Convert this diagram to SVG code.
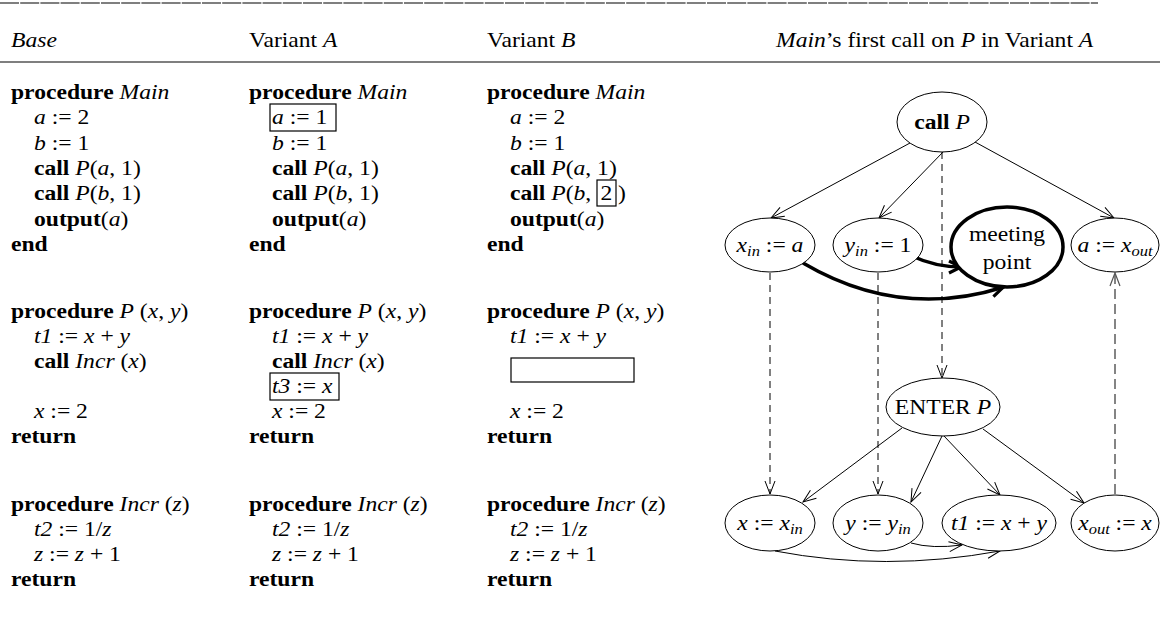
<svg xmlns="http://www.w3.org/2000/svg" width="1160" height="622" viewBox="0 0 1160 622">
<style>
  text { font-family: 'Liberation Serif', 'Times New Roman', serif; font-size: 20px; fill: #000; }
  .b { font-weight: bold; }
  .i { font-style: italic; }
  .sub { font-size: 14px; font-style: italic; }
  .rule { stroke: #000; stroke-width: 1.2; }
  .box { fill: none; stroke: #000; stroke-width: 1.2; }
  .node { fill: #fff; stroke: #000; stroke-width: 1; }
  .node-thick { fill: #fff; stroke: #000; stroke-width: 3.5; }
  .edge { fill: none; stroke: #000; stroke-width: 1; }
  .dash { fill: none; stroke: #000; stroke-width: 1; stroke-dasharray: 7 5; }
  .dash-gray { fill: none; stroke: #666; stroke-width: 1.6; stroke-dasharray: 10 5; }
  .heavy { fill: none; stroke: #000; stroke-width: 3.5; }
</style>
<defs>
  <marker id="arr" markerUnits="userSpaceOnUse" viewBox="-15 -8 17 16" markerWidth="17" markerHeight="16" refX="0" refY="0" orient="auto" overflow="visible">
    <path d="M -13 -5 L 0 0 L -13 5" fill="none" stroke="#000" stroke-width="1"/>
  </marker>
  <marker id="arr-gray" markerUnits="userSpaceOnUse" viewBox="-15 -8 17 16" markerWidth="17" markerHeight="16" refX="0" refY="0" orient="auto" overflow="visible">
    <path d="M -13 -5 L 0 0 L -13 5" fill="none" stroke="#555" stroke-width="1.2"/>
  </marker>
  <marker id="arr-heavy" markerUnits="userSpaceOnUse" viewBox="-16 -9 18 18" markerWidth="18" markerHeight="18" refX="0" refY="0" orient="auto" overflow="visible">
    <path d="M -13 -6 L -1 0 L -13 6" fill="none" stroke="#000" stroke-width="3.2"/>
  </marker>
</defs>

<!-- page rules -->
<line x1="0" y1="3" x2="1098" y2="3" class="rule" stroke-dasharray="19 1.2"/>
<line x1="0" y1="62" x2="1160" y2="62" class="rule"/>

<!-- column headers -->
<g id="headers">
  <text transform="translate(11,47) scale(1.18 1)"><tspan class="i">Base</tspan></text>
  <text transform="translate(249,47) scale(1.18 1)">Variant <tspan class="i">A</tspan></text>
  <text transform="translate(487,47) scale(1.18 1)">Variant <tspan class="i">B</tspan></text>
  <text transform="translate(776,47) scale(1.18 1)"><tspan class="i">Main</tspan>’s first call on <tspan class="i">P</tspan> in Variant <tspan class="i">A</tspan></text>
</g>

<!-- Base program -->
<g id="base" transform="translate(11,0) scale(1.18 1)">
  <text y="99"><tspan class="b">procedure</tspan> <tspan class="i">Main</tspan></text>
  <text x="19.5" y="124"><tspan class="i">a</tspan> := 2</text>
  <text x="19.5" y="150"><tspan class="i">b</tspan> := 1</text>
  <text x="19.5" y="175"><tspan class="b">call</tspan> <tspan class="i">P</tspan>(<tspan class="i">a</tspan>, 1)</text>
  <text x="19.5" y="200"><tspan class="b">call</tspan> <tspan class="i">P</tspan>(<tspan class="i">b</tspan>, 1)</text>
  <text x="19.5" y="226"><tspan class="b">output</tspan>(<tspan class="i">a</tspan>)</text>
  <text y="251"><tspan class="b">end</tspan></text>

  <text y="318"><tspan class="b">procedure</tspan> <tspan class="i">P</tspan> (<tspan class="i">x</tspan>, <tspan class="i">y</tspan>)</text>
  <text x="19.5" y="343"><tspan class="i">t1</tspan> := <tspan class="i">x</tspan> + <tspan class="i">y</tspan></text>
  <text x="19.5" y="368"><tspan class="b">call</tspan> <tspan class="i">Incr</tspan> (<tspan class="i">x</tspan>)</text>
  <text x="19.5" y="418"><tspan class="i">x</tspan> := 2</text>
  <text y="443"><tspan class="b">return</tspan></text>

  <text y="511"><tspan class="b">procedure</tspan> <tspan class="i">Incr</tspan> (<tspan class="i">z</tspan>)</text>
  <text x="19.5" y="536"><tspan class="i">t2</tspan> := 1/<tspan class="i">z</tspan></text>
  <text x="19.5" y="561"><tspan class="i">z</tspan> := <tspan class="i">z</tspan> + 1</text>
  <text y="586"><tspan class="b">return</tspan></text>
</g>

<!-- Variant A -->
<g id="variant-a">
  <rect class="box" x="270" y="104" width="66" height="27"/>
  <rect class="box" x="270" y="373" width="69" height="27"/>
  <g transform="translate(249,0) scale(1.18 1)">
    <text y="99"><tspan class="b">procedure</tspan> <tspan class="i">Main</tspan></text>
    <text x="19.5" y="124"><tspan class="i">a</tspan> := 1</text>
    <text x="19.5" y="150"><tspan class="i">b</tspan> := 1</text>
    <text x="19.5" y="175"><tspan class="b">call</tspan> <tspan class="i">P</tspan>(<tspan class="i">a</tspan>, 1)</text>
    <text x="19.5" y="200"><tspan class="b">call</tspan> <tspan class="i">P</tspan>(<tspan class="i">b</tspan>, 1)</text>
    <text x="19.5" y="226"><tspan class="b">output</tspan>(<tspan class="i">a</tspan>)</text>
    <text y="251"><tspan class="b">end</tspan></text>

    <text y="318"><tspan class="b">procedure</tspan> <tspan class="i">P</tspan> (<tspan class="i">x</tspan>, <tspan class="i">y</tspan>)</text>
    <text x="19.5" y="343"><tspan class="i">t1</tspan> := <tspan class="i">x</tspan> + <tspan class="i">y</tspan></text>
    <text x="19.5" y="368"><tspan class="b">call</tspan> <tspan class="i">Incr</tspan> (<tspan class="i">x</tspan>)</text>
    <text x="19.5" y="393"><tspan class="i">t3</tspan> := <tspan class="i">x</tspan></text>
    <text x="19.5" y="418"><tspan class="i">x</tspan> := 2</text>
    <text y="443"><tspan class="b">return</tspan></text>

    <text y="511"><tspan class="b">procedure</tspan> <tspan class="i">Incr</tspan> (<tspan class="i">z</tspan>)</text>
    <text x="19.5" y="536"><tspan class="i">t2</tspan> := 1/<tspan class="i">z</tspan></text>
    <text x="19.5" y="561"><tspan class="i">z</tspan> := <tspan class="i">z</tspan> + 1</text>
    <text y="586"><tspan class="b">return</tspan></text>
  </g>
</g>

<!-- Variant B -->
<g id="variant-b">
  <rect class="box" x="597" y="180" width="19" height="26"/>
  <rect class="box" x="511" y="358" width="123" height="24"/>
  <text transform="translate(606.5,200) scale(1.18 1)" text-anchor="middle">2</text>
  <text transform="translate(618,200) scale(1.18 1)">)</text>
  <g transform="translate(487,0) scale(1.18 1)">
    <text y="99"><tspan class="b">procedure</tspan> <tspan class="i">Main</tspan></text>
    <text x="19.5" y="124"><tspan class="i">a</tspan> := 2</text>
    <text x="19.5" y="150"><tspan class="i">b</tspan> := 1</text>
    <text x="19.5" y="175"><tspan class="b">call</tspan> <tspan class="i">P</tspan>(<tspan class="i">a</tspan>, 1)</text>
    <text x="19.5" y="200"><tspan class="b">call</tspan> <tspan class="i">P</tspan>(<tspan class="i">b</tspan>,</text>
    <text x="19.5" y="226"><tspan class="b">output</tspan>(<tspan class="i">a</tspan>)</text>
    <text y="251"><tspan class="b">end</tspan></text>

    <text y="318"><tspan class="b">procedure</tspan> <tspan class="i">P</tspan> (<tspan class="i">x</tspan>, <tspan class="i">y</tspan>)</text>
    <text x="19.5" y="343"><tspan class="i">t1</tspan> := <tspan class="i">x</tspan> + <tspan class="i">y</tspan></text>
    <text x="19.5" y="418"><tspan class="i">x</tspan> := 2</text>
    <text y="443"><tspan class="b">return</tspan></text>

    <text y="511"><tspan class="b">procedure</tspan> <tspan class="i">Incr</tspan> (<tspan class="i">z</tspan>)</text>
    <text x="19.5" y="536"><tspan class="i">t2</tspan> := 1/<tspan class="i">z</tspan></text>
    <text x="19.5" y="561"><tspan class="i">z</tspan> := <tspan class="i">z</tspan> + 1</text>
    <text y="586"><tspan class="b">return</tspan></text>
  </g>
</g>

<!-- graph connectors -->
<g id="connectors">
  <path class="edge" d="M 910 143 L 771 218" marker-end="url(#arr)"/>
  <path class="edge" d="M 944 151 L 879 218" marker-end="url(#arr)"/>
  <path class="edge" d="M 975 142 L 1114 218" marker-end="url(#arr)"/>
  <path class="dash" d="M 942 152 L 942 378" marker-end="url(#arr)"/>
  <path class="heavy" d="M 803 263 Q 900 320 1004 287" marker-end="url(#arr-heavy)"/>
  <path class="heavy" d="M 912 256 Q 935 267 962 267" marker-end="url(#arr-heavy)"/>
  <path class="dash" d="M 770 273 L 770 494" marker-end="url(#arr)"/>
  <path class="dash" d="M 878 273 L 878 494" marker-end="url(#arr)"/>
  <path class="dash-gray" d="M 1115 494 L 1115 273" marker-end="url(#arr-gray)"/>
  <path class="edge" d="M 902 428 L 803 502" marker-end="url(#arr)"/>
  <path class="edge" d="M 942 436 L 911 502" marker-end="url(#arr)"/>
  <path class="edge" d="M 944 436 L 1000 495" marker-end="url(#arr)"/>
  <path class="edge" d="M 983 429 L 1084 503" marker-end="url(#arr)"/>
  <path class="edge" d="M 911 543 Q 932 549 962 545" marker-end="url(#arr)"/>
  <path class="edge" d="M 775 551 Q 885 572 1000 551" marker-end="url(#arr)"/>
</g>

<!-- graph nodes -->
<g id="n-call-p">
  <ellipse class="node" cx="942" cy="122" rx="45" ry="30"/>
  <text transform="translate(942,129) scale(1.18 1)" text-anchor="middle"><tspan class="b">call</tspan> <tspan class="i">P</tspan></text>
</g>
<g id="n-x-in">
  <ellipse class="node" cx="770" cy="245" rx="45" ry="27"/>
  <text transform="translate(770,252) scale(1.18 1)" text-anchor="middle"><tspan class="i">x</tspan><tspan class="sub" dy="4">in</tspan><tspan dy="-4"> := </tspan><tspan class="i">a</tspan></text>
</g>
<g id="n-y-in">
  <ellipse class="node" cx="878" cy="245" rx="45" ry="27"/>
  <text transform="translate(878,252) scale(1.18 1)" text-anchor="middle"><tspan class="i">y</tspan><tspan class="sub" dy="4">in</tspan><tspan dy="-4"> := 1</tspan></text>
</g>
<g id="n-meeting">
  <ellipse class="node-thick" cx="1007" cy="247" rx="56" ry="40"/>
  <text transform="translate(1007,241) scale(1.18 1)" text-anchor="middle">meeting</text>
  <text transform="translate(1007,269) scale(1.18 1)" text-anchor="middle">point</text>
</g>
<g id="n-a-out">
  <ellipse class="node" cx="1115" cy="245" rx="44" ry="27"/>
  <text transform="translate(1115,252) scale(1.18 1)" text-anchor="middle"><tspan class="i">a</tspan> := <tspan class="i">x</tspan><tspan class="sub" dy="4">out</tspan></text>
</g>
<g id="n-enter-p">
  <ellipse class="node" cx="943" cy="407" rx="57" ry="29"/>
  <text transform="translate(943,414) scale(1.18 1)" text-anchor="middle">ENTER <tspan class="i">P</tspan></text>
</g>
<g id="n-x">
  <ellipse class="node" cx="770" cy="523" rx="45" ry="28"/>
  <text transform="translate(770,530) scale(1.18 1)" text-anchor="middle"><tspan class="i">x</tspan> := <tspan class="i">x</tspan><tspan class="sub" dy="4">in</tspan></text>
</g>
<g id="n-y">
  <ellipse class="node" cx="878" cy="523" rx="45" ry="28"/>
  <text transform="translate(878,530) scale(1.18 1)" text-anchor="middle"><tspan class="i">y</tspan> := <tspan class="i">y</tspan><tspan class="sub" dy="4">in</tspan></text>
</g>
<g id="n-t1">
  <ellipse class="node" cx="999" cy="523" rx="57" ry="28"/>
  <text transform="translate(999,530) scale(1.18 1)" text-anchor="middle"><tspan class="i">t1</tspan> := <tspan class="i">x</tspan> + <tspan class="i">y</tspan></text>
</g>
<g id="n-x-out">
  <ellipse class="node" cx="1115" cy="523" rx="44" ry="28"/>
  <text transform="translate(1115,530) scale(1.18 1)" text-anchor="middle"><tspan class="i">x</tspan><tspan class="sub" dy="4">out</tspan><tspan dy="-4"> := </tspan><tspan class="i">x</tspan></text>
</g>
</svg>
